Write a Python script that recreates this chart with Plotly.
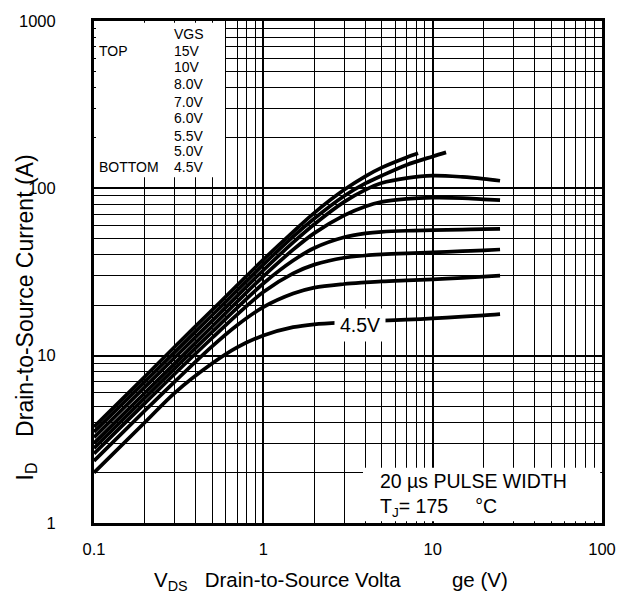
import plotly.graph_objects as go

# ---------------- data ----------------
vgs_labels = ["15V", "10V", "8.0V", "7.0V", "6.0V", "5.5V", "5.0V", "4.5V"]

vds_15v = [0.1, 0.2, 0.3, 0.5, 0.7, 1, 1.5, 2, 3, 4, 5, 7, 8.2]
id_15v = [3.75, 7.5, 11.3, 18.8, 26.3, 37.5, 55, 71.4, 98, 118, 133, 153, 162]

vds_10v = [0.1, 0.2, 0.3, 0.5, 0.7, 1, 1.5, 2, 3, 4, 5, 7, 10, 12]
id_10v = [3.5, 7.0, 10.5, 17.5, 24.5, 35, 51.5, 66, 90, 107, 119, 138, 155, 164]

vds_main = [0.1, 0.2, 0.3, 0.5, 0.7, 1, 1.5, 2, 3, 4, 5, 7, 10, 15, 20, 25]
id_8v = [3.25, 6.5, 9.75, 16.2, 22.7, 32.4, 47.5, 61, 83, 98, 107.5, 115, 119, 117, 114, 111]
id_7v = [3.0, 6.0, 9.0, 15.0, 21.0, 29.8, 43, 54, 69, 78, 83, 86.5, 88, 87.5, 86, 85]
id_6v = [2.8, 5.6, 8.4, 13.9, 19.3, 27, 37, 44, 51, 53.8, 55, 55.8, 56.2, 56.7, 57, 57.2]
id_5v5 = [2.6, 5.2, 7.8, 12.8, 17.6, 24, 31, 35, 38.5, 39.7, 40.3, 40.9, 41.4, 42.1, 42.6, 43.1]
id_5v0 = [2.35, 4.7, 7.0, 11.4, 15.2, 19.5, 23.5, 25.5, 26.8, 27.4, 27.8, 28.2, 28.6, 29.2, 29.7, 30.1]
id_4v5 = [2.0, 4.0, 6.0, 9.0, 11.2, 13.2, 14.8, 15.4, 15.8, 16.0, 16.2, 16.4, 16.7, 17.1, 17.4, 17.7]

x_tickvals = [0.1, 1, 10, 100]
x_ticktext = ["0.1", "1", "10", "100"]
y_tickvals = [1, 10, 100, 1000]
y_ticktext = ["1", "10", "100", "1000"]

series = [
    (vds_15v, id_15v),
    (vds_10v, id_10v),
    (vds_main, id_8v),
    (vds_main, id_7v),
    (vds_main, id_6v),
    (vds_main, id_5v5),
    (vds_main, id_5v0),
    (vds_main, id_4v5),
]

# ---------------- figure ----------------
W, H = 631, 599
L, R, T, B = 94, 29, 15, 76
PW = W - L - R
PH = H - T - B

def X(px):
    return (px - L) / PW

def Y(py):
    return (H - B - py) / PH

FONT = "Liberation Sans, Arial, sans-serif"
NB = "\u00a0"

fig = go.Figure()
for (xs, ys), name in zip(series, vgs_labels):
    fig.add_trace(go.Scatter(
        x=xs, y=ys, mode="lines", name=name,
        line=dict(color="black", width=3.7, shape="spline", smoothing=0.9),
        showlegend=False, hoverinfo="skip",
    ))

minor_x = [m * 10.0 ** e for e in (-1, 0, 1) for m in range(2, 10)]
minor_y = [m * 10.0 ** e for e in (0, 1, 2) for m in range(2, 10)]

axis_common = dict(
    type="log", showline=True, linecolor="black", linewidth=3, mirror=True,
    showgrid=True, gridcolor="black", gridwidth=2.4, ticks="",
    zeroline=False, tickfont=dict(family=FONT, size=16.5, color="black"),
    tickmode="array",
)
fig.update_xaxes(range=[-1, 2], tickvals=x_tickvals, ticktext=x_ticktext,
                 ticklabelstandoff=9,
                 minor=dict(tickmode="array", tickvals=minor_x, showgrid=True,
                            gridcolor="black", gridwidth=1.3, ticks=""),
                 **axis_common)
fig.update_yaxes(range=[0, 3], tickvals=y_tickvals, ticktext=y_ticktext,
                 ticklabelstandoff=32,
                 minor=dict(tickmode="array", tickvals=minor_y, showgrid=True,
                            gridcolor="black", gridwidth=1.3, ticks=""),
                 **axis_common)

# white boxes hiding the grid behind the texts
fig.add_shape(type="rect", xref="paper", yref="paper",
              x0=X(96), x1=X(225), y0=Y(173), y1=Y(16.8),
              fillcolor="white", line=dict(width=0), layer="above")
fig.add_shape(type="rect", xref="paper", yref="paper",
              x0=X(363), x1=X(600.2), y0=Y(521.2), y1=Y(467),
              fillcolor="white", line=dict(width=0), layer="above")

ann = []
def txt(s, px, py, size=14, xanchor="left", **kw):
    ann.append(dict(text=s, x=X(px), y=Y(py), xref="paper", yref="paper",
                    xanchor=xanchor, yanchor="middle", showarrow=False,
                    font=dict(family=FONT, size=size, color="black"), **kw))

txt("VGS", 172, 28)
txt("TOP", 97, 45)
txt("BOTTOM", 97, 163)
legend_y = [45, 62, 79, 97, 113, 131, 147, 163]
for lab, py in zip(vgs_labels, legend_y):
    txt(lab, 172, py)

txt("20 µs PULSE WIDTH", 378, 480, size=19.5)
txt("T<sub>J</sub>= 175" + NB * 5 + "°C", 378, 507, size=19.5)
txt("4.5V", 360, 323, size=19.5, xanchor="center", bgcolor="white", borderpad=5)

txt("V<sub>DS</sub>" + NB * 3 + "Drain-to-Source Volta" + NB * 9 + "ge (V)",
    152, 582, size=20.5, xanchor="left")
ann.append(dict(text="I<sub>D</sub>" + NB * 4 + "Drain-to-Source Current (A)", x=X(26), y=Y(315),
                xref="paper", yref="paper", xanchor="center", yanchor="middle",
                showarrow=False, textangle=-90,
                font=dict(family=FONT, size=23, color="black")))

fig.update_layout(
    width=W, height=H, margin=dict(l=L, r=R, t=T, b=B),
    paper_bgcolor="white", plot_bgcolor="white",
    annotations=ann, showlegend=False,
)

fig.write_html("out.html")
